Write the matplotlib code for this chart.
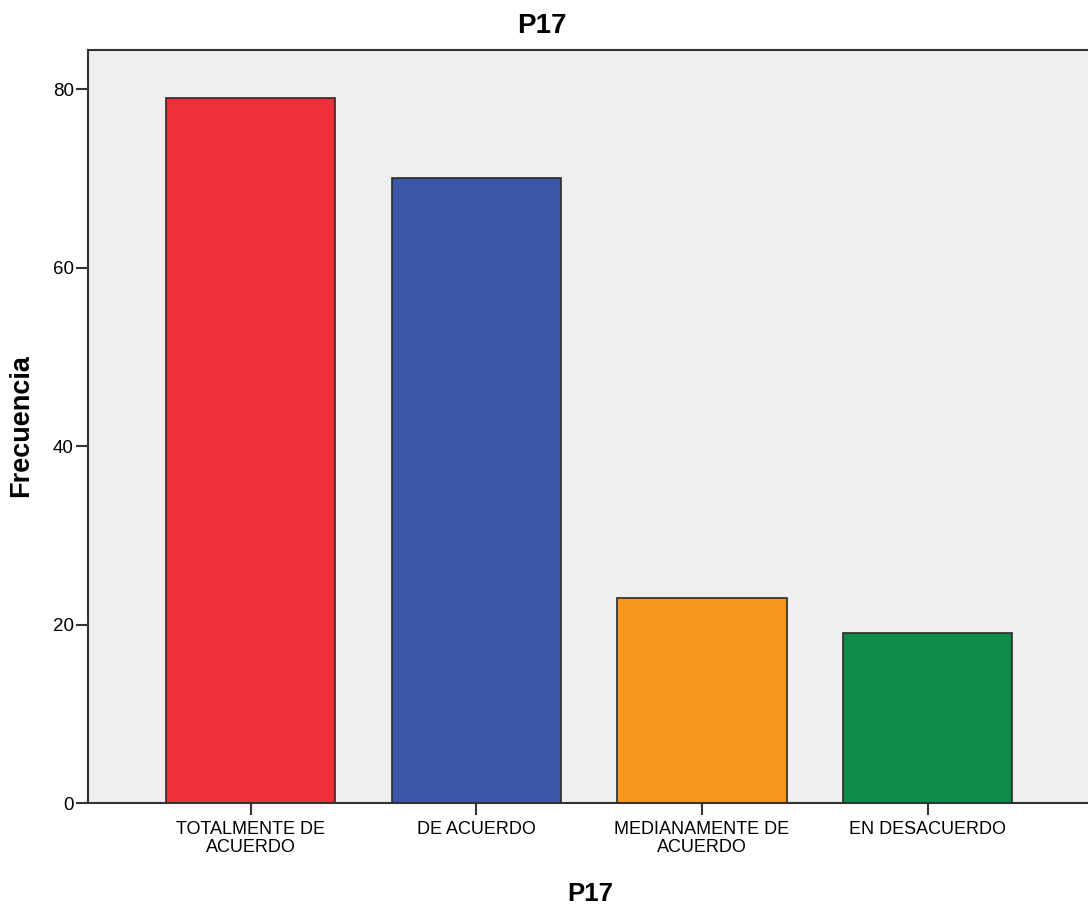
import matplotlib
matplotlib.use('Agg')
import matplotlib.pyplot as plt
import numpy as np

matplotlib.rcParams['font.family'] = ['Liberation Sans', 'DejaVu Sans']

categories = ['TOTALMENTE DE\nACUERDO', 'DE ACUERDO', 'MEDIANAMENTE DE\nACUERDO', 'EN DESACUERDO']
counts = [79, 70, 23, 19]
colors = ['#EF3038', '#3C57A8', '#F7981D', '#0F8C4A']
yticks = [0, 20, 40, 60, 80]

W, H = 1088, 908
fig = plt.figure(figsize=(W / 100, H / 100), dpi=100)
ax = fig.add_axes([88 / W, 1 - 803 / H, 1 - 88 / W, (803 - 50) / H])
ax.set_facecolor('#EFEFEF')

x = np.arange(len(categories))
ax.bar(x, counts, width=0.75, color=colors, edgecolor='#2b2b2b', linewidth=1.2, zorder=2)

ax.set_xlim(-0.72, 3.71)
ax.set_ylim(0, 84.4)
ax.set_xticks(x)
ax.set_xticklabels(categories, fontsize=13, linespacing=1.1)
ax.set_yticks(yticks)
ax.tick_params(axis='y', labelsize=13.5, length=8.6, width=1.5, pad=1.5, color='#333333')
ax.tick_params(axis='x', length=8.6, width=1.5, pad=4, color='#333333')

for side in ['left', 'top', 'bottom']:
    ax.spines[side].set_linewidth(1.5)
    ax.spines[side].set_color('#333333')
ax.spines['right'].set_visible(False)

# SPSS-style labels placed by pixel position
fig.text(542 / W, 1 - 26 / H, 'P17', fontsize=20, fontweight='bold', ha='center', va='center')
fig.text(590 / W, 1 - 894 / H, 'P17', fontsize=18.5, fontweight='bold', ha='center', va='center')
fig.text(21 / W, 1 - 426 / H, 'Frecuencia', fontsize=19.5, fontweight='bold',
         rotation=90, ha='center', va='center')

plt.savefig('out.png', dpi=100)
